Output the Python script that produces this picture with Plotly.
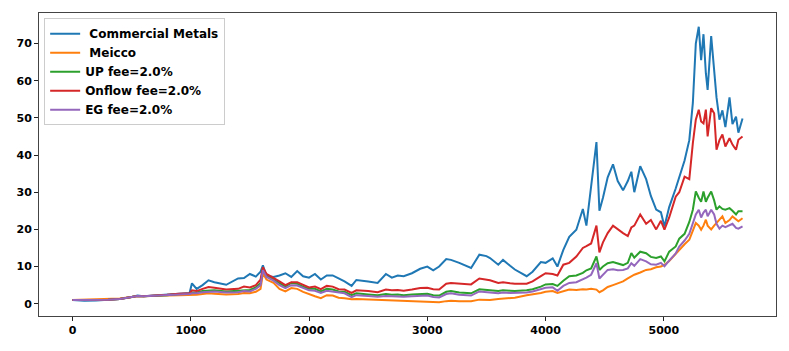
import plotly.graph_objects as go

# day index of each reading (at irregular steps)
days = [
    0, 100, 200, 300, 400, 500, 550, 600, 700, 800, 900, 990,
    1010, 1050, 1100, 1150, 1200, 1300, 1400, 1450, 1500, 1550, 1590, 1610, 1640, 1700, 1750,
    1800, 1850, 1900, 1950, 2000, 2050, 2100, 2150, 2200, 2250, 2300, 2360, 2400, 2500, 2580,
    2650, 2700, 2750, 2800, 2870, 2940, 3000, 3050, 3100, 3160, 3200, 3270, 3370, 3440, 3500,
    3530, 3600, 3640, 3700, 3740, 3840, 3890, 3960, 4000, 4060, 4100,
    4150, 4200, 4260, 4315, 4345, 4385, 4430, 4455, 4485, 4525, 4570, 4610, 4655, 4695, 4725,
    4750, 4800, 4850, 4890, 4935, 4975, 5005, 5045, 5100, 5130, 5175, 5215, 5245, 5270, 5295,
    5315, 5335, 5355, 5370, 5400, 5425, 5445, 5470, 5495, 5520, 5555, 5580, 5610, 5630, 5665,
]

commercial_metals = [
    1.0, 0.8, 0.9, 1.1, 1.3, 1.8, 2.2, 2.0, 2.2, 2.5, 2.8, 2.9,
    5.5, 4.0, 5.0, 6.3, 5.8, 5.1, 6.8, 6.9, 8.0, 7.3, 8.6, 10.3, 7.5, 7.2, 7.6,
    8.2, 7.2, 8.8, 7.4, 7.0, 8.0, 6.5, 7.6, 7.6, 6.8, 6.0, 4.8, 6.4, 6.0, 5.6,
    8.0, 7.0, 7.6, 7.4, 8.2, 9.4, 10.0, 9.0, 10.0, 12.0, 11.8, 11.0, 9.6, 13.2, 12.8,
    12.3, 10.5, 11.8, 10.2, 9.2, 7.4, 8.6, 11.2, 11.0, 12.2, 10.0,
    14.5, 18.0, 19.9, 25.5, 21.0, 31.5, 43.5, 25.0, 28.5, 34.0, 37.5, 33.0, 30.5, 33.0, 35.5,
    30.0, 37.0, 33.5, 29.0, 25.3, 24.6, 20.8, 26.0, 31.0, 34.0, 38.5, 44.0, 54.0, 70.0, 74.5,
    65.5, 72.5, 62.0, 57.5, 72.0, 63.0, 55.5, 49.5, 52.0, 47.5, 55.5, 48.3, 50.3, 46.0, 49.8,
]

meicco = [
    1.0, 1.1, 1.1, 1.2, 1.4, 1.8, 2.1, 2.0, 2.0, 2.2, 2.3, 2.3,
    2.3, 2.4, 2.6, 2.8, 2.7, 2.5, 2.6, 2.9, 2.8, 3.2, 4.0, 8.2, 6.5, 5.6, 4.0,
    3.3, 4.2, 4.0, 3.2, 2.5, 2.0, 1.5, 2.3, 2.2, 1.6, 1.5, 1.2, 1.3, 1.2, 1.1,
    1.0, 0.9, 0.8, 0.7, 0.7, 0.6, 0.7, 0.5, 0.4, 0.7, 0.8, 0.7, 0.7, 1.1, 1.1,
    1.0, 1.3, 1.4, 1.5, 1.6, 2.3, 2.5, 2.9, 3.2, 3.4, 2.9,
    3.4, 3.8, 3.7, 3.9, 3.8, 4.0, 3.8, 3.1, 3.6, 4.5, 5.0, 5.5, 6.0, 6.8, 7.4,
    7.8, 8.4, 9.1, 9.3, 9.8, 10.0, 10.5, 11.5, 13.5, 14.5, 16.0, 17.2, 19.9, 21.7, 21.0,
    19.9, 21.0, 22.6, 21.0, 20.0, 21.0, 21.7, 22.5, 23.5, 21.7, 22.5, 23.5, 22.8, 22.2, 23.0,
]

up_fee = [
    1.0, 1.0, 1.0, 1.1, 1.3, 1.8, 2.1, 2.0, 2.1, 2.3, 2.6, 2.7,
    3.0, 3.0, 3.4, 3.6, 3.6, 3.3, 3.5, 3.8, 3.7, 4.4, 5.5, 9.4, 7.5, 6.5, 5.5,
    4.6, 5.6, 5.4, 4.6, 4.0, 4.0, 3.3, 4.0, 3.8, 3.3, 3.2, 2.3, 2.8, 2.5, 2.3,
    2.6, 2.4, 2.5, 2.3, 2.5, 2.6, 2.7, 2.3, 2.2, 3.2, 3.4, 3.0, 2.8, 3.9, 3.8,
    3.6, 3.4, 3.6, 3.5, 3.4, 3.6, 3.9, 4.6, 5.2, 5.3, 4.8,
    6.2, 7.4, 7.6, 8.3, 9.0, 9.5, 12.7, 9.1, 10.0, 10.9, 11.2, 10.8, 10.4, 11.0, 13.6,
    12.4, 14.0, 13.6, 12.6, 12.3, 12.7, 11.4, 14.0, 15.4, 17.5, 18.8, 22.0, 25.3, 30.2, 28.5,
    27.4, 30.2, 27.4, 28.5, 30.2, 27.8, 25.3, 26.2, 25.5, 25.3, 25.7, 25.0, 24.0, 24.9, 24.9,
]

onflow_fee = [
    1.0, 1.0, 1.0, 1.1, 1.3, 1.8, 2.1, 2.0, 2.1, 2.4, 2.7, 2.8,
    3.6, 3.4, 4.0, 4.5, 4.3, 3.8, 4.0, 4.6, 4.4, 5.0, 6.5, 9.8, 8.0, 7.0, 6.0,
    5.0, 5.8, 5.8, 5.0, 4.4, 4.6, 3.9, 4.8, 4.6, 3.9, 3.8, 2.9, 3.6, 3.4, 3.1,
    3.8, 3.6, 3.7, 3.5, 3.8, 4.2, 4.3, 3.9, 3.8, 5.4, 5.6, 5.4, 5.2, 6.8, 6.5,
    6.3, 5.6, 5.8, 5.5, 5.4, 5.4, 6.0, 7.4, 8.2, 8.0, 7.6,
    10.5, 11.0, 12.7, 15.0, 15.5, 16.2, 21.0, 13.8, 16.5, 19.0, 21.0, 20.0, 19.0, 18.2, 20.5,
    21.0, 24.0, 21.5, 22.5, 20.0, 22.3, 19.9, 23.2, 28.8, 30.0, 34.2, 33.5, 43.2, 49.5, 52.2,
    49.0, 48.5, 52.2, 45.0, 52.6, 51.2, 41.4, 44.0, 45.5, 42.3, 44.5, 42.8, 41.4, 44.1, 45.0,
]

eg_fee = [
    1.0, 1.0, 1.0, 1.1, 1.3, 1.8, 2.1, 2.0, 2.1, 2.3, 2.5, 2.6,
    2.8, 2.8, 3.1, 3.3, 3.3, 3.0, 3.1, 3.4, 3.3, 4.0, 5.0, 9.0, 7.2, 6.2, 5.0,
    4.2, 5.0, 4.9, 4.2, 3.6, 3.5, 2.9, 3.5, 3.3, 2.9, 2.8, 1.8, 2.3, 2.1, 1.9,
    2.1, 2.0, 2.0, 1.9, 2.0, 2.2, 2.2, 1.8, 1.7, 2.6, 2.8, 2.4, 2.2, 3.3, 3.2,
    3.0, 2.8, 3.0, 2.9, 2.9, 3.0, 3.3, 4.0, 4.3, 4.4, 3.5,
    4.8, 5.6, 5.8, 6.5, 7.0, 7.8, 10.9, 6.8, 7.8, 9.1, 9.3, 9.0, 9.1, 9.5, 10.9,
    10.2, 12.0, 11.4, 10.6, 10.5, 11.0, 10.1, 11.6, 13.5, 15.4, 17.0, 18.8, 21.7, 24.0, 25.3,
    23.2, 24.5, 25.3, 23.5, 25.3, 24.0, 21.5, 20.2, 21.0, 20.6, 21.2, 21.5, 20.4, 20.2, 20.8,
]

series_names = [" Commercial Metals", " Meicco", "UP fee=2.0%", "Onflow fee=2.0%", "EG fee=2.0%"]
series_values = [commercial_metals, meicco, up_fee, onflow_fee, eg_fee]
colors = ["#1f77b4", "#ff7f0e", "#2ca02c", "#d62728", "#9467bd"]

fig = go.Figure()
for name, vals, col in zip(series_names, series_values, colors):
    fig.add_trace(go.Scatter(x=days, y=vals, mode="lines", name=name,
                             line=dict(color=col, width=2)))

tick_font = dict(family="DejaVu Sans", size=11, color="black", weight="bold")
axis_common = dict(showgrid=False, zeroline=False, showline=True, mirror=True,
                   linecolor="#444", linewidth=1, ticks="outside", ticklen=4,
                   tickcolor="#222", tickfont=tick_font, automargin=False)

# the page body adds an 8px offset, so the figure is sized to fit after it
fig.update_layout(
    width=781, height=343,
    margin=dict(l=31, r=13, t=5, b=35),
    paper_bgcolor="white", plot_bgcolor="white",
    showlegend=True,
    legend=dict(x=0.007, y=0.983, xanchor="left", yanchor="top",
                bgcolor="rgba(255,255,255,0.8)", bordercolor="#ccc", borderwidth=1,
                font=dict(family="DejaVu Sans", size=12, color="black", weight="bold"),
                itemwidth=30, tracegroupgap=0),
    xaxis=dict(range=[-283, 5948], tickvals=[0, 1000, 2000, 3000, 4000, 5000], **axis_common),
    yaxis=dict(range=[-3.3, 78.2], tickvals=[0, 10, 20, 30, 40, 50, 60, 70], **axis_common),
)

fig.write_html("out.html")
